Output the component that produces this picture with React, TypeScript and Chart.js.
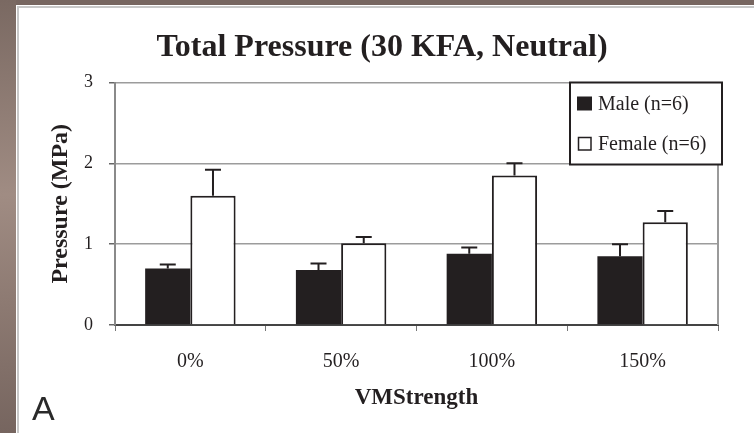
import React, { useEffect, useRef } from "react";
import { Chart, registerables } from "chart.js";

Chart.register(...registerables);

const categories = ["0%", "50%", "100%", "150%"];
const maleValues = [0.7, 0.68, 0.88, 0.85];
const maleSD = [0.05, 0.08, 0.08, 0.15];
const femaleValues = [1.6, 1.01, 1.85, 1.27];
const femaleSD = [0.32, 0.08, 0.15, 0.14];
const seriesLabels = ["Male (n=6)", "Female (n=6)"];
const yTicks = [0, 1, 2, 3];

const chartTitle = "Total Pressure (30 KFA, Neutral)";
const xTitle = "VMStrength";
const yTitle = "Pressure (MPa)";
const panelLetter = "A";

const SERIF = "'Liberation Serif', 'Times New Roman', serif";
const INK = "#231f20";

const backgroundPlugin = {
  id: "scanBackground",
  beforeDraw(chart: any) {
    const { ctx, width, height } = chart;
    ctx.save();
    ctx.fillStyle = "#776660";
    ctx.fillRect(0, 0, width, height);
    const g = ctx.createLinearGradient(0, 0, 16, height);
    g.addColorStop(0, "#7a6962");
    g.addColorStop(0.45, "#a08c83");
    g.addColorStop(0.7, "#8d7a72");
    g.addColorStop(1, "#76655f");
    ctx.fillStyle = g;
    ctx.fillRect(0, 0, 16, height);
    ctx.fillStyle = "#ffffff";
    ctx.fillRect(16, 5, width - 16, height - 5);
    ctx.strokeStyle = "#c8c8c8";
    ctx.lineWidth = 2;
    ctx.beginPath();
    ctx.moveTo(18, height);
    ctx.lineTo(18, 7);
    ctx.lineTo(width, 7);
    ctx.stroke();
    ctx.restore();
  },
};

const decorPlugin = {
  id: "decor",
  afterDatasetsDraw(chart: any) {
    const { ctx, chartArea, scales } = chart;
    const y = scales.y;
    ctx.save();
    // right frame line of the plot
    ctx.strokeStyle = "#9a9a9a";
    ctx.lineWidth = 2;
    ctx.beginPath();
    ctx.moveTo(chartArea.right, chartArea.top);
    ctx.lineTo(chartArea.right, chartArea.bottom);
    ctx.stroke();

    // error bars (upper whisker only)
    const sds = [maleSD, femaleSD];
    const vals = [maleValues, femaleValues];
    ctx.strokeStyle = INK;
    ctx.lineWidth = 2;
    chart.data.datasets.forEach((_: any, di: number) => {
      const meta = chart.getDatasetMeta(di);
      meta.data.forEach((bar: any, i: number) => {
        const top = y.getPixelForValue(vals[di][i] + sds[di][i]);
        const base = y.getPixelForValue(vals[di][i]);
        ctx.beginPath();
        ctx.moveTo(bar.x, base);
        ctx.lineTo(bar.x, top);
        ctx.moveTo(bar.x - 8, top);
        ctx.lineTo(bar.x + 8, top);
        ctx.stroke();
      });
    });

    // legend box inside plot, top-right
    const boxR = chartArea.right + 4;
    const boxT = chartArea.top;
    const boxW = 152;
    const boxH = 82;
    const boxL = boxR - boxW;
    ctx.fillStyle = "#ffffff";
    ctx.fillRect(boxL, boxT, boxW, boxH);
    ctx.strokeStyle = INK;
    ctx.lineWidth = 2;
    ctx.strokeRect(boxL, boxT, boxW, boxH);
    ctx.font = `20px ${SERIF}`;
    ctx.textBaseline = "middle";
    ctx.textAlign = "left";
    chart.data.datasets.forEach((ds: any, di: number) => {
      const cy = boxT + 21 + di * 40;
      const sx = boxL + 7;
      if (di === 0) {
        ctx.fillStyle = INK;
        ctx.fillRect(sx, cy - 7, 15, 14);
      } else {
        ctx.fillStyle = "#fff";
        ctx.fillRect(sx + 1, cy - 6, 13, 12);
        ctx.strokeStyle = INK;
        ctx.lineWidth = 1.5;
        ctx.strokeRect(sx + 1.5, cy - 6, 12.5, 12.5);
      }
      ctx.fillStyle = INK;
      ctx.fillText(ds.label, sx + 21, cy + 1);
    });
    ctx.restore();
  },
  afterDraw(chart: any) {
    const { ctx } = chart;
    ctx.save();
    ctx.fillStyle = INK;
    ctx.font = `bold 32px ${SERIF}`;
    ctx.textAlign = "center";
    ctx.textBaseline = "middle";
    ctx.fillText(chartTitle, 382, 48);
    ctx.font = `34px 'Liberation Sans', Arial, sans-serif`;
    ctx.textAlign = "left";
    ctx.textBaseline = "alphabetic";
    ctx.fillStyle = "#2a2a2a";
    ctx.fillText(panelLetter, 32, 420);
    ctx.restore();
  },
};

export default function App() {
  const ref = useRef<HTMLCanvasElement | null>(null);

  useEffect(() => {
    document.body.style.margin = "0";
    if (!ref.current) return;
    const chart = new Chart(ref.current, {
      type: "bar",
      data: {
        labels: categories,
        datasets: [
          {
            label: seriesLabels[0],
            data: maleValues,
            backgroundColor: INK,
            borderColor: INK,
            borderWidth: 0,
            categoryPercentage: 0.6,
            barPercentage: 1.0,
          },
          {
            label: seriesLabels[1],
            data: femaleValues,
            backgroundColor: "#ffffff",
            borderColor: INK,
            borderWidth: 2,
            categoryPercentage: 0.6,
            barPercentage: 1.0,
          },
        ],
      },
      options: {
        animation: false,
        responsive: false,
        devicePixelRatio: 1,
        layout: { padding: { left: 0, right: 36, top: 82.5, bottom: 0 } },
        plugins: {
          legend: { display: false },
          title: { display: false },
          tooltip: { enabled: false },
        },
        scales: {
          x: {
            offset: true,
            grid: {
              display: true,
              offset: true,
              drawOnChartArea: false,
              drawTicks: true,
              tickLength: 6,
              color: "#777",
            },
            border: { display: true, color: "#444", width: 2 },
            ticks: {
              color: INK,
              font: { family: SERIF, size: 20 },
              padding: 19,
            },
            title: {
              display: true,
              text: xTitle,
              color: INK,
              font: { family: SERIF, size: 23, weight: "bold" },
              padding: { top: 0, bottom: 21 },
            },
            afterFit(scale: any) {
              scale.height = 108;
            },
          },
          y: {
            min: 0,
            max: 3,
            afterBuildTicks(scale: any) {
              scale.ticks = yTicks.map((v) => ({ value: v }));
            },
            grid: {
              color: "#9c9c9c",
              lineWidth: 1.5,
              tickLength: 6,
              tickColor: "#666",
            },
            border: { display: true, color: "#8a8a8a", width: 2 },
            ticks: {
              color: INK,
              font: { family: SERIF, size: 18 },
              padding: 16,
            },
            title: {
              display: true,
              text: yTitle,
              color: INK,
              font: { family: SERIF, size: 24, weight: "bold" },
              padding: { top: 46.5, bottom: 0 },
            },
            afterFit(scale: any) {
              scale.width = 115;
            },
          },
        },
      },
      plugins: [backgroundPlugin, decorPlugin],
    });
    return () => chart.destroy();
  }, []);

  return (
    <div style={{ width: 754, height: 433, position: "relative" }}>
      <canvas
        ref={ref}
        width={754}
        height={433}
        style={{ display: "block", width: 754, height: 433 }}
      />
    </div>
  );
}
